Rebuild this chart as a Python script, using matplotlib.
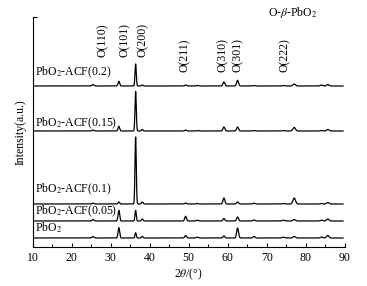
import numpy as np
import matplotlib
matplotlib.use("Agg")
import matplotlib.pyplot as plt

plt.rcParams['font.family'] = ['Liberation Serif', 'DejaVu Serif']
plt.rcParams['mathtext.fontset'] = 'stix'

# peak positions (2theta) and per-sample peak heights (arbitrary units)
peak_pos = [25.5, 32.1, 36.4, 38.1, 49.2, 52.2, 59.0, 62.5, 66.7, 74.2, 77.0, 84.0, 85.6]
peak_wid = [0.22, 0.2, 0.16, 0.2, 0.22, 0.25, 0.24, 0.24, 0.25, 0.3, 0.32, 0.3, 0.3]
h_pbo2 = [1.5, 10.3, 5.3, 1.5, 2.5, 0.8, 2.0, 10.0, 1.5, 0.8, 1.5, 1.0, 2.5]
h_005 = [1.5, 10.7, 10.7, 2.0, 4.7, 0.8, 2.5, 4.0, 1.0, 0.8, 1.5, 0.8, 2.0]
h_01 = [0.8, 2.0, 67.0, 2.0, 1.0, 0.5, 6.0, 2.0, 0.8, 0.5, 6.0, 0.5, 1.5]
h_015 = [1.0, 4.7, 39.6, 1.5, 1.0, 0.5, 4.0, 4.0, 0.5, 0.5, 3.5, 0.5, 1.5]
h_02 = [1.5, 4.7, 22.0, 1.0, 1.0, 0.5, 4.0, 5.7, 0.5, 0.5, 2.0, 1.0, 1.5]

samples = ['PbO$_2$', 'PbO$_2$-ACF(0.05)', 'PbO$_2$-ACF(0.1)',
           'PbO$_2$-ACF(0.15)', 'PbO$_2$-ACF(0.2)']
heights = [h_pbo2, h_005, h_01, h_015, h_02]
offsets = [9, 26, 43, 116, 161]
label_y = [19, 36, 58, 124, 175]

planes = ['O(110)', 'O(101)', 'O(200)', 'O(211)', 'O(310)', 'O(301)', 'O(222)']
plane_x = [28.0, 33.7, 38.3, 49.0, 58.7, 62.5, 74.6]
plane_y = [190, 190, 190, 175, 175, 175, 175]

x = np.linspace(10, 89.5, 4000)

fig = plt.figure(figsize=(3.67, 2.86), dpi=100)
ax = fig.add_axes([0.0886, 0.1364, 0.8514, 0.8042])

for name, h, off, ly in zip(samples, heights, offsets, label_y):
    y = np.full_like(x, off, dtype=float)
    for p, w, a in zip(peak_pos, peak_wid, h):
        y += a * np.exp(-0.5 * ((x - p) / w) ** 2)
    ax.plot(x, y, color='black', lw=0.9)
    ax.text(10.6, ly, name, fontsize=8.5, va='center', ha='left')

for lab, px, py in zip(planes, plane_x, plane_y):
    ax.text(px, py, lab, rotation=90, fontsize=8.5, ha='center', va='bottom')

ax.text(76.7, 234, 'O-$\\beta$-PbO$_2$', fontsize=8.5, ha='center', va='center')

ax.set_xlim(10, 90)
ax.set_ylim(0, 230)
ax.set_xticks(range(10, 91, 10))
ax.set_xticks(range(15, 90, 10), minor=True)
ax.set_yticks([230])
ax.set_yticklabels([])
ax.tick_params(direction='in', length=3, width=0.8, labelsize=8.5)
ax.tick_params(which='minor', direction='in', length=2.5, width=0.8)
for s in ['top', 'right']:
    ax.spines[s].set_visible(False)
ax.set_xlabel('2$\\theta$/(°)', fontsize=8.5, labelpad=2)
ax.set_ylabel('Intensity(a.u.)', fontsize=8.5, labelpad=1)

fig.savefig('out.png', dpi=100)
